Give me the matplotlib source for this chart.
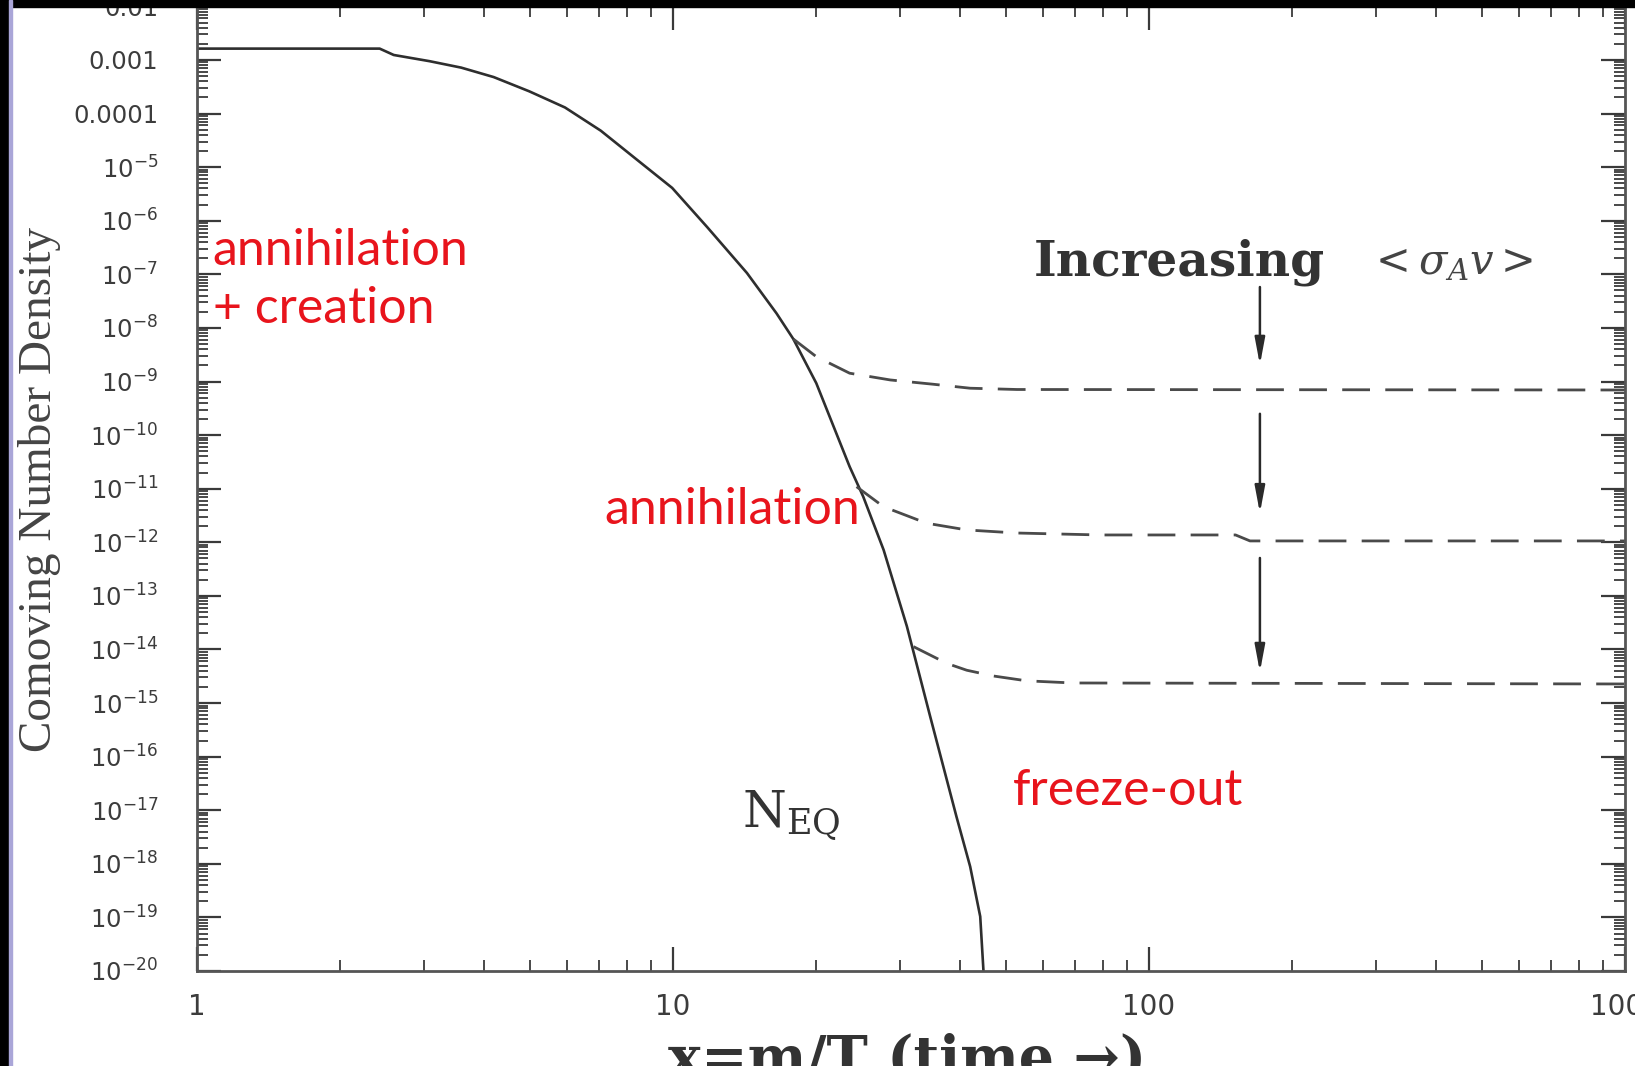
import numpy as np
import matplotlib.pyplot as plt
from matplotlib.patches import Rectangle
from matplotlib.ticker import LogLocator, NullFormatter

# equilibrium comoving density along the solid curve
x_eq = [1.0, 2.42, 2.59, 3.08, 3.59, 4.20, 4.99, 5.93, 7.05, 8.38, 9.96, 11.8, 14.3,
        16.5, 17.9, 20.0, 23.5, 25.1, 27.7, 31.0, 34.7, 39.4, 42.1, 44.2, 44.9]
y_eq = [1.63e-3, 1.63e-3, 1.24e-3, 9.5e-4, 7.2e-4, 4.8e-4, 2.6e-4, 1.3e-4, 4.8e-5,
        1.4e-5, 4.1e-6, 7.6e-7, 1.06e-7, 1.87e-8, 6.2e-9, 9.3e-10, 2.58e-11, 7.1e-12,
        7.2e-13, 2.7e-14, 5.6e-16, 7.6e-18, 8.9e-19, 1.04e-19, 1e-20]

# freeze-out branches (dashed), weakest to strongest annihilation
x_fo1 = [17.9, 20.0, 23.5, 28.6, 35.2, 42.1, 52.8, 1000]
y_fo1 = [6.2e-9, 2.91e-9, 1.43e-9, 1.07e-9, 8.9e-10, 7.5e-10, 7.1e-10, 6.95e-10]

x_fo2 = [24.3, 27.7, 34.1, 41.4, 52.7, 78.9, 152, 163, 1000]
y_fo2 = [1.09e-11, 4.6e-12, 2.27e-12, 1.70e-12, 1.49e-12, 1.37e-12, 1.37e-12, 1.06e-12, 1.06e-12]

x_fo3 = [32.0, 37.6, 41.4, 47.1, 55.3, 69.2, 1000]
y_fo3 = [1.13e-14, 5.5e-15, 4.1e-15, 3.2e-15, 2.6e-15, 2.37e-15, 2.27e-15]

# arrows between the plateaus
arrow_x = 171
arrow_tail = [5.8e-8, 2.5e-10, 5.1e-13]
arrow_head = [2.04e-9, 3.5e-12, 3.8e-15]

# axis ticks
x_ticks = [1, 10, 100, 1000]
x_labels = ['1', '10', '100', '1000']
y_ticks = [10.0**-k for k in range(2, 21)]
y_labels = ['0.01', '0.001', '0.0001'] + [r'$10^{-%d}$' % k for k in range(5, 21)]

RED = '#e8141c'
GREY = '#3c3c3c'

W, H = 1635, 1066
fig = plt.figure(figsize=(W / 100, H / 100), dpi=100)
ax = fig.add_axes([197 / W, 1 - 971 / H, (1625 - 197) / W, (971 - 6.4) / H])

ax.plot(x_eq, y_eq, color='#2e2e2e', lw=1.9)
for xs, ys in [(x_fo1, y_fo1), (x_fo2, y_fo2), (x_fo3, y_fo3)]:
    ax.plot(xs, ys, color='#4a4a4a', lw=2.0, dashes=(10, 5.5))

for y0, y1 in zip(arrow_tail, arrow_head):
    ax.annotate('', xy=(arrow_x, y1), xytext=(arrow_x, y0),
                arrowprops=dict(arrowstyle='-|>,head_width=0.3,head_length=1.6',
                                color='#2a2a2a', lw=1.8, shrinkA=0, shrinkB=0))

ax.set_xscale('log')
ax.set_yscale('log')
ax.set_xlim(1, 1000)
ax.set_ylim(1e-20, 1e-2)

ax.set_xticks(x_ticks)
ax.set_xticklabels(x_labels)
ax.set_yticks(y_ticks)
ax.set_yticklabels(y_labels)
ax.xaxis.set_minor_locator(LogLocator(base=10, subs=np.arange(2, 10)))
ax.yaxis.set_minor_locator(LogLocator(base=10, subs=np.arange(2, 10), numticks=40))
ax.xaxis.set_minor_formatter(NullFormatter())
ax.yaxis.set_minor_formatter(NullFormatter())

ax.tick_params(which='both', direction='in', top=True, right=True,
               color='#3a3a3a', labelcolor=GREY)
ax.tick_params(which='major', length=17, width=1.6)
ax.tick_params(which='minor', length=8, width=1.3)
ax.tick_params(axis='y', which='major', labelsize=17.5, pad=28)
ax.tick_params(axis='x', which='major', labelsize=20, pad=16)
for s in ax.spines.values():
    s.set_color('#555555')
    s.set_linewidth(2)

# annotations on the plot
serif = ['DejaVu Serif']
plt.rcParams['mathtext.fontset'] = 'dejavuserif'
ax.text(0.586, 0.735, 'Increasing', transform=ax.transAxes, fontsize=35,
        fontweight='bold', family=serif, color='#333333', va='center', ha='left')
ax.text(0.82, 0.735, r'$<\sigma_{A}v>$', transform=ax.transAxes, fontsize=30,
        color='#444444', va='center', ha='left')
ax.text(0.382, 0.16, r'$\mathrm{N}_{\mathrm{EQ}}$', transform=ax.transAxes,
        fontsize=36, color='#333333', va='center', ha='left')

ax.text(0.011, 0.716, 'annihilation\n+ creation', transform=ax.transAxes,
        fontsize=36, family=['Lato'], color=RED, va='center', ha='left',
        linespacing=1.32)
ax.text(0.285, 0.478, 'annihilation', transform=ax.transAxes,
        fontsize=36, family=['Lato'], color=RED, va='center', ha='left')
ax.text(0.571, 0.187, 'freeze-out', transform=ax.transAxes,
        fontsize=36, family=['Lato'], color=RED, va='center', ha='left')

fig.text(907 / W, -0.009, 'x=m/T (time →)', fontsize=40, fontweight='bold',
         family=serif, color='#333333', ha='center', va='baseline')
fig.text(40 / W, 1 - 490 / H, 'Comoving Number Density', fontsize=34,
         family=['Liberation Serif'], color='#444444', rotation=90,
         ha='center', va='center')

# dark frame along the top and left edge
fig.add_artist(Rectangle((0, 1 - 7 / H), 1, 7 / H, transform=fig.transFigure,
                         color='black', zorder=10))
fig.add_artist(Rectangle((0, 0), 9 / W, 1, transform=fig.transFigure,
                         color='black', zorder=10))
fig.add_artist(Rectangle((9 / W, 0), 3 / W, 1, transform=fig.transFigure,
                         color='#aaa6d8', zorder=10))

fig.savefig('out.png', dpi=100)
